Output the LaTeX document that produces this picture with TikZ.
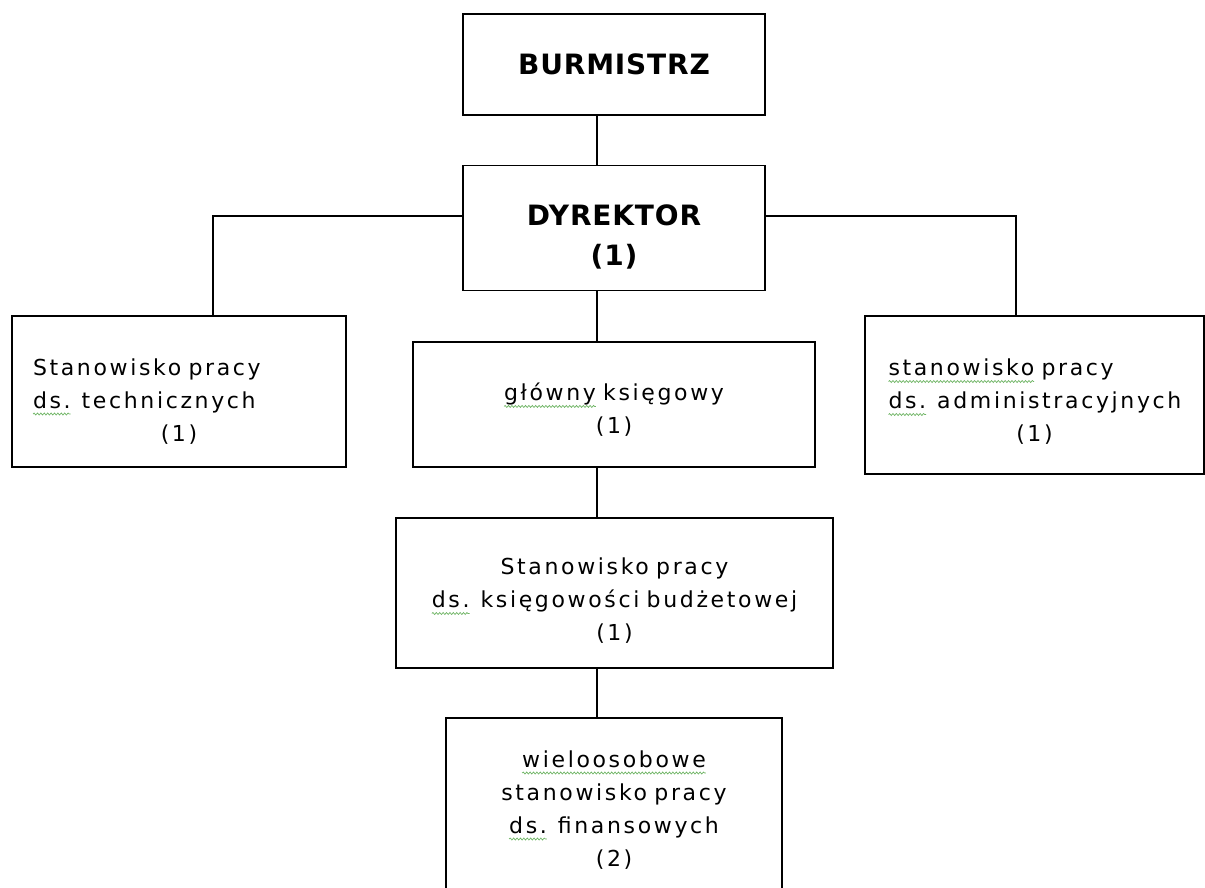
\documentclass[tikz,border=0pt]{standalone}
\usepackage{fontspec}
\usetikzlibrary{calc,decorations.pathmorphing}
\newfontfamily\orgfont{DejaVu Sans}[LetterSpace=12,BoldFeatures={LetterSpace=3}]
\definecolor{spellgreen}{RGB}{110,180,100}
\newlength\squiglen
\newcommand\squig[1]{\leavevmode\settowidth\squiglen{#1}\rlap{\tikz[overlay]\draw[spellgreen,line width=0.35pt,decorate,decoration={snake,amplitude=0.5pt,segment length=1.7pt}] (0pt,-2.8pt) -- (\squiglen,-2.8pt);}#1}
\newcommand\midline[1]{\par\centerline{#1}}

\begin{document}
\begin{tikzpicture}[x=0.5pt,y=-0.5pt,line width=0.9pt,
  frame/.style={draw,rectangle,inner sep=0pt},
  txt/.style={inner sep=0pt,text width=#1,align=center,
    font=\orgfont\fontsize{11}{16.5}\selectfont},
  lefttxt/.style={txt=#1,align=left},
  headtxt/.style={txt=#1,font=\orgfont\bfseries\fontsize{14}{20}\selectfont},
  link/.style={draw,line width=0.9pt}]

  \useasboundingbox (0,0) rectangle (1205,888);
  \clip (0,0) rectangle (1205,888);

  \node[frame,minimum width=151pt,minimum height=50.5pt,
    label={[headtxt=140pt]center:BURMISTRZ}] (burm) at (614,64.5) {};
  \node[frame,minimum width=151pt,minimum height=62.5pt,
    label={[headtxt=140pt,yshift=-4.5pt]center:DYREKTOR\\(1)}] (dyr) at (614,228) {};

  \node[frame,minimum width=167pt,minimum height=75.5pt,
    label={[lefttxt=146pt,yshift=-5pt]center:Stanowisko pracy\\\squig{ds.} technicznych\midline{(1)}}] (tech) at (179,391.5) {};
  \node[frame,minimum width=201pt,minimum height=62.5pt,
    label={[txt=190pt,yshift=-2.75pt]center:\squig{główny} księgowy\\(1)}] (glowny) at (614,404.5) {};
  \node[frame,minimum width=169.5pt,minimum height=79pt,
    label={[lefttxt=146pt,yshift=-3.5pt]center:\squig{stanowisko} pracy\\\squig{ds.} administracyjnych\midline{(1)}}] (admin) at (1034.5,395) {};

  \node[frame,minimum width=218.5pt,minimum height=75pt,
    label={[txt=210pt,yshift=-4pt]center:Stanowisko pracy\\\squig{ds.} księgowości budżetowej\\(1)}] (budz) at (614.5,593) {};
  \node[frame,minimum width=168pt,minimum height=91pt,
    label={[txt=160pt,yshift=-0.5pt]center:\squig{wieloosobowe}\\stanowisko pracy\\\squig{ds.} finansowych\\(2)}] (fin) at (614,809) {};

  \coordinate (spine) at (597,0);
  \coordinate (tarm) at (213,216);
  \coordinate (aarm) at (1016,216);

  \path[link] (burm.south -| spine) -- (dyr.north -| spine);
  \path[link] (dyr.south -| spine) -- (glowny.north -| spine);
  \path[link] (glowny.south -| spine) -- (budz.north -| spine);
  \path[link] (budz.south -| spine) -- (fin.north -| spine);
  \path[link] (dyr.west |- tarm) -- (tarm) -- (tarm |- tech.north);
  \path[link] (dyr.east |- aarm) -- (aarm) -- (aarm |- admin.north);
\end{tikzpicture}
\end{document}
